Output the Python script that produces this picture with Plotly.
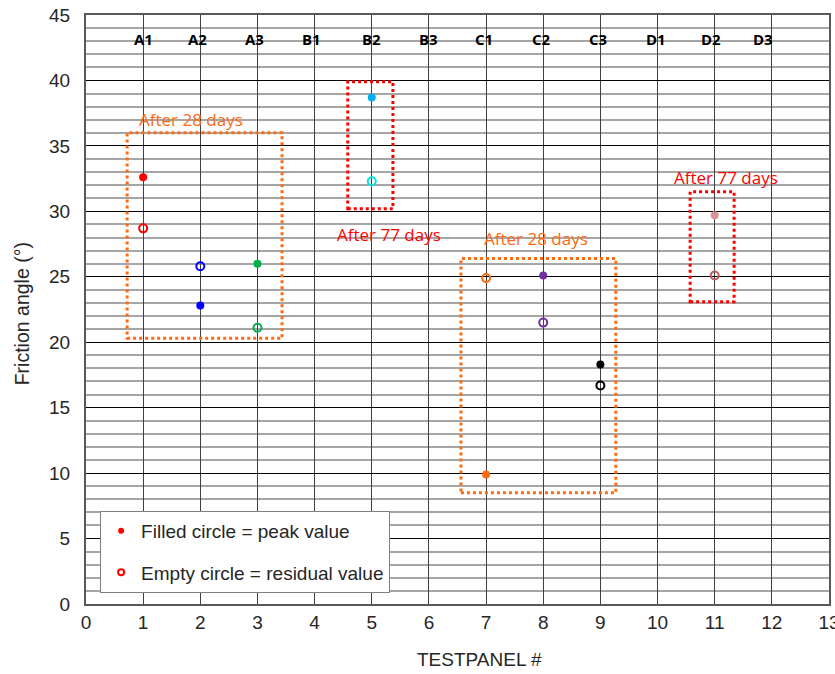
import plotly.graph_objects as go

# Test panels and measured friction angles (degrees)
panels = [1, 2, 3, 5, 7, 8, 9, 11]
peak_values = [32.6, 22.8, 26.0, 38.7, 9.9, 25.1, 18.3, 29.7]
residual_values = [28.7, 25.8, 21.1, 32.3, 24.9, 21.5, 16.7, 25.1]
peak_colors = ["#FF0000", "#0000FF", "#00B050", "#00B0F0",
               "#FF6A13", "#7030A0", "#000000", "#D99694"]
residual_colors = ["#FF0000", "#0000FF", "#00B050", "#00E5E5",
                   "#FF6A13", "#7030A0", "#000000", "#B85C5C"]

# Panel identifiers written across the top of the grid
panel_ids = ["A1", "A2", "A3", "B1", "B2", "B3",
             "C1", "C2", "C3", "D1", "D2", "D3"]
panel_id_pos = [1, 1.95, 2.95, 3.95, 5, 6, 6.97, 7.97, 8.95, 9.97, 10.93, 11.85]

# Curing-time groupings: (x0, x1, y0, y1, colour, label, label_x, label_y)
groups = [
    (0.72, 3.43, 20.3, 36.0, "#FF6A13", "After 28 days", 1.84, 37.0),
    (4.58, 5.37, 30.2, 39.9, "#FF0000", "After 77 days", 5.3, 28.2),
    (6.56, 9.27, 8.5, 26.4, "#FF6A13", "After 28 days", 7.87, 27.9),
    (10.57, 11.34, 23.1, 31.5, "#FF0000", "After 77 days", 11.2, 32.6),
]

fig = go.Figure()

fig.add_trace(go.Scatter(
    x=panels, y=peak_values, mode="markers", showlegend=False,
    marker=dict(symbol="circle", size=8, color=peak_colors),
))
fig.add_trace(go.Scatter(
    x=panels, y=residual_values, mode="markers", showlegend=False,
    marker=dict(symbol="circle-open", size=8, color=residual_colors,
                line=dict(width=2)),
))

# Legend entries
fig.add_trace(go.Scatter(
    x=[None], y=[None], mode="markers", name="Filled circle = peak value",
    legendgroup="a",
    marker=dict(symbol="circle", size=6, color="#FF0000"),
))
fig.add_trace(go.Scatter(
    x=[None], y=[None], mode="markers", name="Empty circle = residual value",
    legendgroup="b",
    marker=dict(symbol="circle-open", size=6, color="#FF0000", line=dict(width=2)),
))

for x0, x1, y0, y1, col, label, lx, ly in groups:
    fig.add_shape(type="rect", x0=x0, x1=x1, y0=y0, y1=y1, xref="x", yref="y",
                  line=dict(color=col, width=3, dash="dot"), layer="above")
    fig.add_annotation(x=lx, y=ly, text=label, showarrow=False,
                       font=dict(family="Open Sans", size=17, color=col))

for pid, px in zip(panel_ids, panel_id_pos):
    fig.add_annotation(x=px, y=43.2, text="<b>%s</b>" % pid, showarrow=False,
                       font=dict(family="Open Sans", size=15, color="#000000"))

axis_font = dict(family="Liberation Sans", size=19, color="#262626")

# Axis titles
fig.add_annotation(xref="paper", yref="paper", x=0.53, y=-0.095,
                   text="TESTPANEL #", showarrow=False,
                   xanchor="center", yanchor="middle", font=axis_font)
fig.add_annotation(xref="paper", yref="paper", x=-0.086, y=0.492,
                   text="Friction angle (°)", showarrow=False, textangle=-90,
                   xanchor="center", yanchor="middle",
                   font=dict(family="Liberation Sans", size=19.5, color="#262626"))

fig.update_layout(
    width=835, height=674,
    margin=dict(l=86, r=6, t=15, b=70),
    paper_bgcolor="white", plot_bgcolor="white",
    showlegend=True,
    legend=dict(
        x=0.019, y=0.019, xanchor="left", yanchor="bottom",
        bgcolor="white", bordercolor="#7F7F7F", borderwidth=1,
        font=dict(family="Liberation Sans", size=19, color="#262626"),
        traceorder="grouped", tracegroupgap=14, itemwidth=30,
    ),
    xaxis=dict(
        range=[0, 13], dtick=1, tick0=0,
        showgrid=True, gridcolor="#404040", gridwidth=1,
        showline=True, linecolor="#595959", linewidth=2, mirror=True,
        zeroline=False, ticks="", tickfont=axis_font,
        ticklabeloverflow="allow", automargin=False,
    ),
    yaxis=dict(
        range=[0, 45], dtick=5, tick0=0,
        showgrid=True, gridcolor="#000000", gridwidth=1,
        minor=dict(dtick=1, showgrid=True, gridcolor="#A6A6A6", gridwidth=1.5),
        showline=True, linecolor="#595959", linewidth=2, mirror=True,
        zeroline=False, ticks="outside", ticklen=10, tickcolor="rgba(0,0,0,0)",
        tickfont=axis_font, ticklabeloverflow="allow", automargin=False,
    ),
)

fig.write_html("out.html")
